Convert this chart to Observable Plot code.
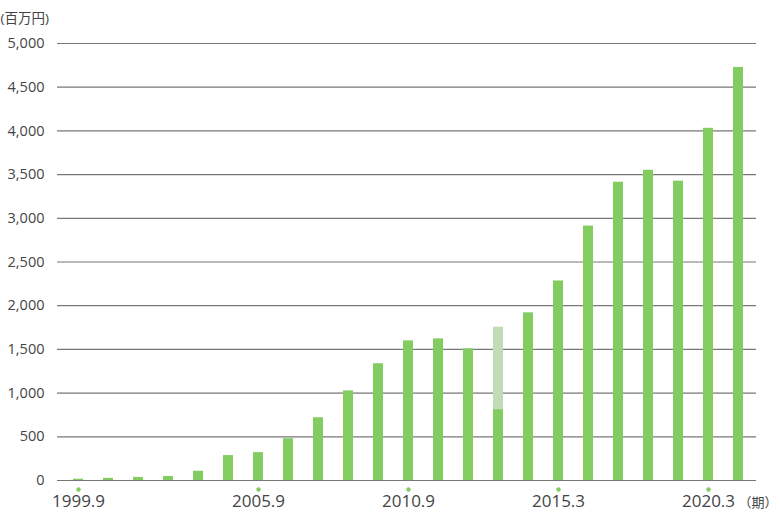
<!DOCTYPE html>
<html>
<head>
<meta charset="utf-8">
<script src="https://cdn.jsdelivr.net/npm/d3@7"></script>
<script src="https://cdn.jsdelivr.net/npm/@observablehq/plot@0.6"></script>
<style>
  html, body { margin: 0; padding: 0; background: #fff; }
  #chart svg { display: block; }
</style>
</head>
<body>
<div id="chart"></div>
<script>
const periods = ["1999.9","2000.9","2001.9","2002.9","2003.9","2004.9","2005.9","2006.9","2007.9","2008.9","2009.9","2010.9","2011.9","2012.9","2013.9","2014.3","2015.3","2016.3","2017.3","2018.3","2019.3","2020.3","2021.3"];
const values = [15, 25, 35, 45, 106, 285, 319, 478, 718, 1025, 1336, 1598, 1621, 1507, 809, 1918, 2283, 2911, 3413, 3550, 3425, 4030, 4726];
const ghostPeriods = ["2013.9"];
const ghostValues = [1754];
const labeledPeriods = ["1999.9","2005.9","2010.9","2015.3","2020.3"];
const yTicks = [0, 500, 1000, 1500, 2000, 2500, 3000, 3500, 4000, 4500, 5000];
const unitLabel = "(百万円)";
const periodLabel = "（期）";

const green = "#82cc60";
const lightGreen = "#c2dcb5";
const textColor = "#444";

const data = periods.map((p, i) => ({period: p, value: values[i]}));
const ghost = ghostPeriods.map((p, i) => ({period: p, value: ghostValues[i]}));

const chart = Plot.plot({
  width: 780,
  height: 513,
  marginLeft: 57,
  marginRight: 24,
  marginTop: 43,
  marginBottom: 33,
  style: {fontFamily: "'Open Sans', 'Noto Sans CJK JP', sans-serif", color: textColor, background: "#fff"},
  x: {domain: periods, paddingInner: 2/3, paddingOuter: 0.483, align: 0.55},
  y: {domain: [0, 5000]},
  marks: [
    Plot.ruleY(yTicks, {stroke: "#777", strokeWidth: 1.2}),
    Plot.barY(ghost, {x: "period", y: "value", fill: lightGreen}),
    Plot.barY(data, {x: "period", y: "value", fill: green}),
    Plot.axisY({ticks: yTicks, tickSize: 0, tickPadding: 13, tickFormat: d3.format(","), fontSize: 14.5, fill: textColor, label: null}),
    Plot.axisX({ticks: labeledPeriods, tickSize: 0, tickPadding: 14, fontSize: 17, fill: textColor, label: null}),
    Plot.dot(labeledPeriods, {x: d => d, frameAnchor: "bottom", dy: 9, r: 2.2, fill: green, stroke: null}),
    Plot.text([unitLabel], {frameAnchor: "top-left", dx: -57, dy: -30, textAnchor: "start", fontSize: 13.5, fill: textColor}),
    Plot.text([periodLabel], {frameAnchor: "bottom-right", dx: 21, dy: 26, textAnchor: "end", fontSize: 13, fill: textColor})
  ]
});
document.getElementById("chart").appendChild(chart);
</script>
</body>
</html>
